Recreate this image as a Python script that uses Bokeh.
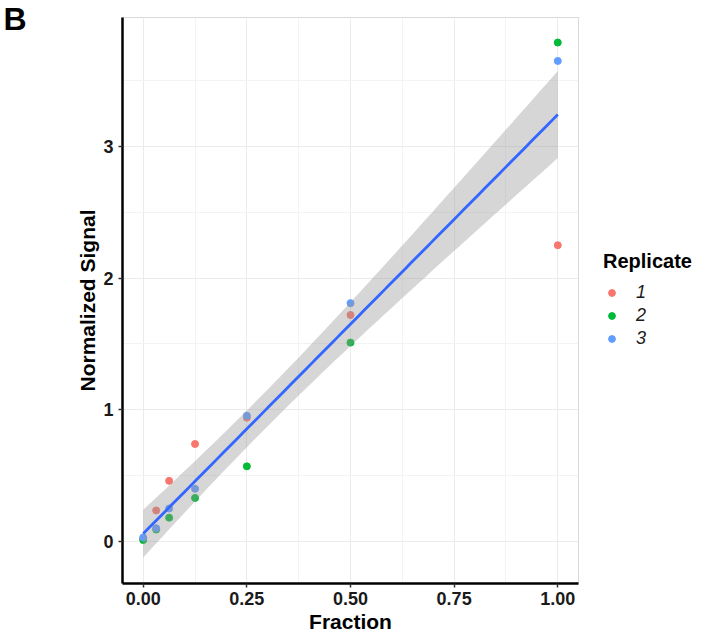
import numpy as np
from bokeh.plotting import figure
from bokeh.layouts import row
from bokeh.models import (Legend, LegendItem, FixedTicker, NumeralTickFormatter,
                          Range1d, ColumnDataSource, LinearAxis, CustomJSTickFormatter)
from bokeh.embed import file_html
from bokeh.resources import INLINE

# ---- data ----
fraction = [0.0, 0.03125, 0.0625, 0.125, 0.25, 0.5, 1.0]
rep1 = [0.02, 0.235, 0.46, 0.74, 0.94, 1.72, 2.25]
rep2 = [0.01, 0.09, 0.18, 0.33, 0.57, 1.51, 3.79]
rep3 = [0.03, 0.10, 0.25, 0.40, 0.955, 1.81, 3.65]
replicates = ["1", "2", "3"]
colors = ["#F8766D", "#00BA38", "#619CFF"]
x_ticks = [0, 0.25, 0.5, 0.75, 1.0]
x_minor = [0.125, 0.375, 0.625, 0.875]
y_ticks = [0, 1, 2, 3]
y_minor = [0.5, 1.5, 2.5, 3.5]

FONT = "Liberation Sans"

# ---- linear fit with 95% confidence band ----
xs = np.array(fraction * 3)
ys = np.array(rep1 + rep2 + rep3)
n = len(xs)
xbar, ybar = xs.mean(), ys.mean()
sxx = ((xs - xbar) ** 2).sum()
slope = ((xs - xbar) * (ys - ybar)).sum() / sxx
icpt = ybar - slope * xbar
resid = ys - (icpt + slope * xs)
s = np.sqrt((resid ** 2).sum() / (n - 2))
tcrit = 2.093  # t(0.975, df=19)
gx = np.linspace(min(fraction), max(fraction), 80)
gy = icpt + slope * gx
se = s * np.sqrt(1.0 / n + (gx - xbar) ** 2 / sxx)
band = ColumnDataSource(dict(x=gx, y=gy, lo=gy - tcrit * se, hi=gy + tcrit * se))

p = figure(frame_width=456, frame_height=566, output_backend="svg",
           toolbar_location=None,
           x_range=Range1d(-0.05, 1.05), y_range=Range1d(-0.32, 3.98),
           min_border_left=122, min_border_top=17, min_border_right=2,
           min_border_bottom=50)
p.background_fill_color = "white"
p.border_fill_color = "white"
p.outline_line_color = "#d9d9d9"

for lab, col, vals in zip(replicates, colors, [rep1, rep2, rep3]):
    p.scatter(fraction, vals, size=7, color=col, line_color=col)

p.varea(x="x", y1="lo", y2="hi", source=band, fill_color="#999999", fill_alpha=0.4)
p.line(x="x", y="y", source=band, line_color="#3366FF", line_width=2.8)

# axes
p.xaxis.ticker = FixedTicker(ticks=x_ticks, minor_ticks=x_minor)
p.yaxis.ticker = FixedTicker(ticks=y_ticks, minor_ticks=y_minor)
p.xaxis.formatter = NumeralTickFormatter(format="0.00")
p.yaxis.formatter = NumeralTickFormatter(format="0")
p.xaxis.axis_label = "Fraction"
p.yaxis.axis_label = "Normalized Signal"
for ax in (p.xaxis, p.yaxis):
    ax.axis_line_color = "black"
    ax.axis_line_width = 2.5
    ax.major_tick_line_color = "#333333"
    ax.major_tick_line_width = 1.5
    ax.major_tick_out = 4
    ax.major_tick_in = 0
    ax.minor_tick_line_color = None
    ax.major_label_text_font = FONT
    ax.major_label_text_font_style = "bold"
    ax.major_label_text_font_size = "18px"
    ax.major_label_text_color = "#1a1a1a"
    ax.axis_label_text_font = FONT
    ax.axis_label_text_font_style = "bold"
    ax.axis_label_text_font_size = "21px"
    ax.axis_label_text_color = "black"
p.xaxis.major_label_standoff = 4
p.xaxis.axis_label_standoff = 2
p.yaxis.major_label_standoff = 5
p.yaxis.axis_label_standoff = 1
p.yaxis.major_label_orientation = "horizontal"

p.xgrid.grid_line_color = "#ebebeb"
p.ygrid.grid_line_color = "#ebebeb"
p.xgrid.minor_grid_line_color = "#f3f3f3"
p.ygrid.minor_grid_line_color = "#f3f3f3"

# panel tag "B": a bare extra axis whose only tick sits at the top of the frame
p.extra_y_ranges = {"tag": Range1d(0, 1.0001)}
tag_axis = LinearAxis(y_range_name="tag", ticker=FixedTicker(ticks=[1.0]),
                      formatter=CustomJSTickFormatter(code="return 'B'"),
                      axis_line_color=None, major_tick_line_color=None,
                      minor_tick_line_color=None, major_tick_out=0, major_tick_in=0,
                      major_label_standoff=47, major_label_orientation="horizontal",
                      major_label_text_font=FONT, major_label_text_font_style="bold",
                      major_label_text_font_size="32px", major_label_text_color="black")
p.add_layout(tag_axis, "left")

# legend panel to the right (its points lie outside its own ranges)
lg = figure(width=116, height=633, output_backend="svg", toolbar_location=None,
            x_range=Range1d(10, 11), y_range=Range1d(10, 11),
            min_border_left=0, min_border_right=0, min_border_top=0,
            min_border_bottom=0)
lg.axis.visible = False
lg.grid.visible = False
lg.outline_line_color = None
lg.background_fill_color = "white"
lg.border_fill_color = "white"
items = []
for lab, col, vals in zip(replicates, colors, [rep1, rep2, rep3]):
    r = lg.scatter(fraction, vals, size=7, color=col, line_color=col)
    items.append(LegendItem(label=lab, renderers=[r]))
legend = Legend(items=items, location=(23, 232), title="Replicate",
                title_text_font=FONT, title_text_font_style="bold",
                title_text_font_size="20px", title_text_color="black",
                label_text_font=FONT, label_text_font_style="italic",
                label_text_font_size="18px", label_text_color="#1a1a1a",
                border_line_color=None, background_fill_color=None,
                margin=0, padding=0, spacing=1, glyph_width=17, glyph_height=17,
                label_height=22, label_standoff=16, title_standoff=8)
lg.add_layout(legend)

layout = row(p, lg, spacing=0)
open("out.html", "w").write(file_html(layout, INLINE))
